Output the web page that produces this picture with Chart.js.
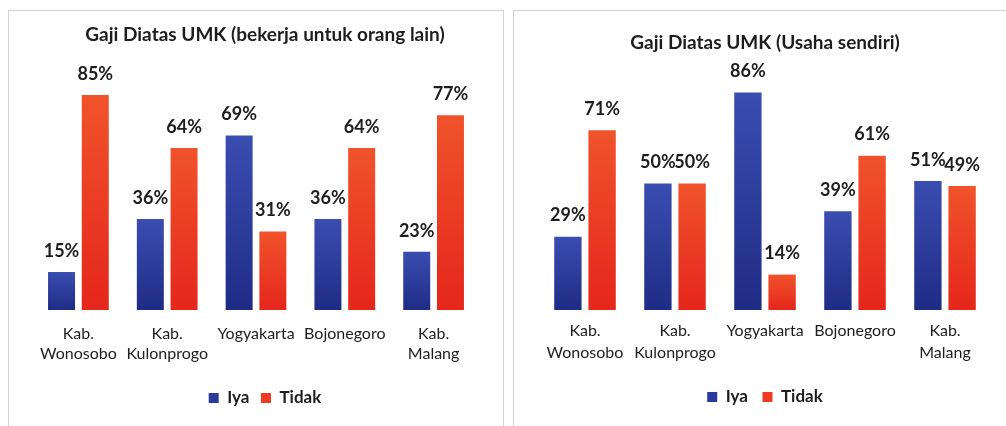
<!DOCTYPE html>
<html>
<head>
<meta charset="utf-8">
<script src="https://cdn.jsdelivr.net/npm/chart.js@4.4.1/dist/chart.umd.min.js"></script>
<style>
  html, body { margin: 0; padding: 0; background: #fff; width: 1006px; height: 426px; overflow: hidden; }
  .panel { position: absolute; top: 10px; height: 440px; border: 1px solid #d6d2d2; background: #fff; }
  #p1 { left: 8px; width: 494px; }
  #p2 { left: 513px; width: 500px; }
  .wrap { position: absolute; top: 11px; height: 430px; }
  #w1 { left: 9px; width: 487px; }
  #w2 { left: 514px; width: 492px; }
</style>
</head>
<body>
<div class="panel" id="p1"></div>
<div class="panel" id="p2"></div>
<div class="wrap" id="w1"><canvas id="chartLeft"></canvas></div>
<div class="wrap" id="w2"><canvas id="chartRight"></canvas></div>
<script>
// categorias (label en dos lineas)
const categories = [
  ['Kab.', 'Wonosobo'],
  ['Kab.', 'Kulonprogo'],
  'Yogyakarta',
  'Bojonegoro',
  ['Kab.', 'Malang']
];
const seriesNames = ['Iya', 'Tidak'];

// bekerja untuk orang lain
const iyaLain = [15, 36, 69, 36, 23];
const tidakLain = [85, 64, 31, 64, 77];

// usaha sendiri
const iyaSendiri = [29, 50, 86, 39, 51];
const tidakSendiri = [71, 50, 14, 61, 49];

const fontFamily = 'Lato, "Open Sans", sans-serif';
const textColor = '#1d1d1d';

// gradiente por barra (arriba claro, abajo oscuro)
function barGradient(topColor, bottomColor) {
  return function (context) {
    const chart = context.chart;
    const yScale = chart.scales.y;
    if (!yScale || context.raw == null) return bottomColor;
    const top = yScale.getPixelForValue(context.raw);
    const base = yScale.getPixelForValue(0);
    if (!isFinite(top) || !isFinite(base) || top === base) return bottomColor;
    const g = chart.ctx.createLinearGradient(0, top, 0, base);
    g.addColorStop(0, topColor);
    g.addColorStop(1, bottomColor);
    return g;
  };
}

// etiquetas de porcentaje encima de cada barra
const valueLabels = {
  id: 'valueLabels',
  afterDatasetsDraw(chart) {
    const ctx = chart.ctx;
    ctx.save();
    ctx.font = 'bold 18px ' + fontFamily;
    ctx.fillStyle = textColor;
    ctx.textAlign = 'center';
    ctx.textBaseline = 'middle';
    chart.data.datasets.forEach((ds, i) => {
      chart.getDatasetMeta(i).data.forEach((bar, j) => {
        ctx.fillText(ds.data[j] + '%', bar.x, bar.y - 21);
      });
    });
    ctx.restore();
  }
};

function initGajiChart(canvasid, title, iya, tidak, opts) {
  const ctx = document.getElementById(canvasid)?.getContext('2d');
  if (!ctx) return;

  return new Chart(ctx, {
    type: 'bar',
    data: {
      labels: categories,
      datasets: [{
        label: seriesNames[0],
        data: iya,
        backgroundColor: barGradient('#3a4db0', '#1f2c86'),
        categoryPercentage: 0.76,
        barPercentage: 0.8
      }, {
        label: seriesNames[1],
        data: tidak,
        backgroundColor: barGradient('#f0532b', '#e5261c'),
        categoryPercentage: 0.76,
        barPercentage: 0.8
      }]
    },
    options: {
      responsive: true,
      maintainAspectRatio: false,
      animation: false,
      layout: { padding: opts.padding },
      scales: {
        x: {
          grid: { display: false, drawTicks: false },
          border: { display: false },
          ticks: {
            color: textColor,
            padding: opts.tickPad,
            maxRotation: 0,
            autoSkip: false,
            font: { family: fontFamily, size: 16, lineHeight: opts.tickLine }
          }
        },
        y: {
          // eje invisible, solo reserva espacio a la derecha
          position: 'right',
          min: 0,
          max: 100,
          grid: { display: false, drawTicks: false },
          border: { display: false },
          ticks: { display: false },
          afterFit: (scale) => { scale.width = opts.yWidth; }
        }
      },
      plugins: {
        title: {
          display: true,
          text: title,
          color: textColor,
          font: { family: fontFamily, size: 19, weight: 'bold' },
          padding: opts.titlePad
        },
        legend: {
          position: 'bottom',
          labels: {
            color: textColor,
            boxWidth: 10,
            boxHeight: 10,
            padding: opts.legendPad,
            font: { family: fontFamily, size: 17, weight: 'bold' },
            generateLabels: (chart) => {
              const labels = Chart.defaults.plugins.legend.labels.generateLabels(chart);
              const fills = ['#2a3a9c', '#ec3d24'];
              labels.forEach((l, i) => {
                l.fillStyle = fills[i];
                l.strokeStyle = fills[i];
                l.lineWidth = 0;
              });
              return labels;
            }
          }
        },
        tooltip: { enabled: false }
      }
    },
    plugins: [valueLabels]
  });
}

initGajiChart('chartLeft', 'Gaji Diatas UMK (bekerja untuk orang lain)', iyaLain, tidakLain, {
  padding: { left: 25, right: 0, top: 0, bottom: 24.5 },
  yWidth: 18,
  titlePad: { top: 12.6, bottom: 10.6 },
  tickPad: 14,
  tickLine: 1.25,
  legendPad: 11.5
});

initGajiChart('chartRight', 'Gaji Diatas UMK (Usaha sendiri)', iyaSendiri, tidakSendiri, {
  padding: { left: 26, right: 16, top: 0, bottom: 25.5 },
  yWidth: 0,
  titlePad: { top: 20.6, bottom: 2.6 },
  tickPad: 10,
  tickLine: 1.375,
  legendPad: 14.5
});
</script>
</body>
</html>
